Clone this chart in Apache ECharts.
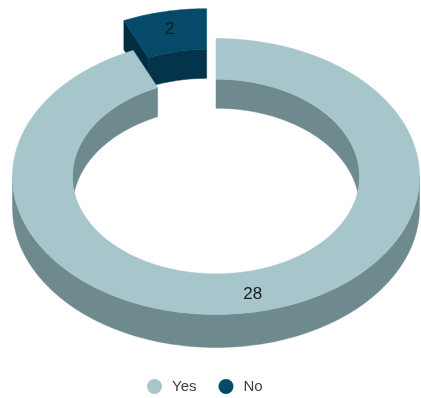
<!DOCTYPE html>
<html>
<head>
<meta charset="utf-8">
<script src="https://cdn.jsdelivr.net/npm/echarts@6/dist/echarts.min.js"></script>
<style>
  html, body { margin: 0; padding: 0; background: #ffffff; }
  #chart { width: 421px; height: 398px; }
</style>
</head>
<body>
<div id="chart"></div>
<script>
// Answers and how many gave each
const categories = ['Yes', 'No'];
const values = [28, 2];
// Slices pulled out of the ring
const explodedSlices = ['No'];

// Face colours per slice: top, walls, radial end faces
const topColors = ['#a6c6cb', '#054a68'];
const sideColors = ['#6f8a8e', '#03344b'];
const capColors = ['#5f7a7e', '#022c40'];

// Tilted ring geometry (pixels)
const ring = {
  cx: 216, cy: 176.5, rx: 203.5, ry: 138,
  inner: 0.705, depth: 31, perspective: 2,
  explode: 45, labelRadius: 0.87
};

const TAU = Math.PI * 2;
const total = values.reduce((a, b) => a + b, 0);

function sliceAngles(i) {
  let before = 0;
  for (let k = 0; k < i; k++) before += values[k];
  return [before / total * TAU, (before + values[i]) / total * TAU];
}

function overlap(a0, a1, b0, b1) {
  const s = Math.max(a0, b0), e = Math.min(a1, b1);
  return s < e ? [s, e] : null;
}

function renderSlice(params, api) {
  const i = params.seriesIndex;
  const [t0, t1] = sliceAngles(i);
  const mid = (t0 + t1) / 2;
  const k = ring.ry / ring.rx;
  const d = explodedSlices.includes(categories[i]) ? ring.explode : 0;
  const ox = d * Math.sin(mid), oy = -d * Math.cos(mid) * k;
  const depthAt = t => ring.depth - ring.perspective * Math.cos(t);
  const pt = (r, t, down) => [
    ring.cx + ox + r * ring.rx * Math.sin(t),
    ring.cy + oy - r * ring.ry * Math.cos(t) + (down ? depthAt(t) : 0)
  ];
  const arc = (r, a, b, down) => {
    const out = [];
    const steps = Math.max(2, Math.ceil((b - a) / 0.01));
    for (let s = 0; s <= steps; s++) out.push(pt(r, a + (b - a) * s / steps, down));
    return out;
  };
  const poly = (points, fill) => ({
    type: 'polygon', shape: { points },
    style: { fill, stroke: fill, lineWidth: 0.5 }
  });
  const children = [];

  // Inner wall: only the far side of the hole faces the viewer
  for (const [b0, b1] of [[-Math.PI / 2, Math.PI / 2], [1.5 * Math.PI, 2.5 * Math.PI]]) {
    const seg = overlap(t0, t1, b0, b1);
    if (seg) {
      children.push(poly(
        arc(ring.inner, seg[0], seg[1], false).concat(arc(ring.inner, seg[0], seg[1], true).reverse()),
        sideColors[i]));
    }
  }
  // Radial end faces that turn toward the viewer
  const cap = t => poly([pt(1, t, false), pt(ring.inner, t, false), pt(ring.inner, t, true), pt(1, t, true)], capColors[i]);
  if (Math.sin(t0) < -1e-6) children.push(cap(t0));
  if (Math.sin(t1) > 1e-6) children.push(cap(t1));
  // Outer wall: the near half
  const seg = overlap(t0, t1, Math.PI / 2, 1.5 * Math.PI);
  if (seg) {
    children.push(poly(
      arc(1, seg[0], seg[1], false).concat(arc(1, seg[0], seg[1], true).reverse()),
      sideColors[i]));
  }
  // Top face
  children.push(poly(arc(1, t0, t1, false).concat(arc(ring.inner, t0, t1, false).reverse()), topColors[i]));
  // Value label
  const lp = pt(ring.labelRadius, mid, false);
  children.push({
    type: 'text',
    style: {
      text: String(api.value(0)), x: lp[0], y: lp[1],
      align: 'center', verticalAlign: 'middle', fill: '#1a1a1a',
      font: '17px "Liberation Sans", Arial, sans-serif'
    }
  });
  return { type: 'group', children };
}

const chart = echarts.init(document.getElementById('chart'), null, { renderer: 'canvas' });
chart.setOption({
  animation: false,
  backgroundColor: '#ffffff',
  legend: {
    data: categories,
    left: 142, top: 374,
    icon: 'circle', itemWidth: 15, itemHeight: 15, itemGap: 22,
    textStyle: { fontFamily: '"Liberation Sans", Arial, sans-serif', fontSize: 15, color: '#404040', padding: [0, 0, 0, 5] }
  },
  series: categories.map((name, i) => ({
    type: 'custom',
    name,
    coordinateSystem: 'none',
    z: 3 - i,
    itemStyle: { color: topColors[i] },
    data: [[values[i]]],
    renderItem: renderSlice
  }))
});
</script>
</body>
</html>
